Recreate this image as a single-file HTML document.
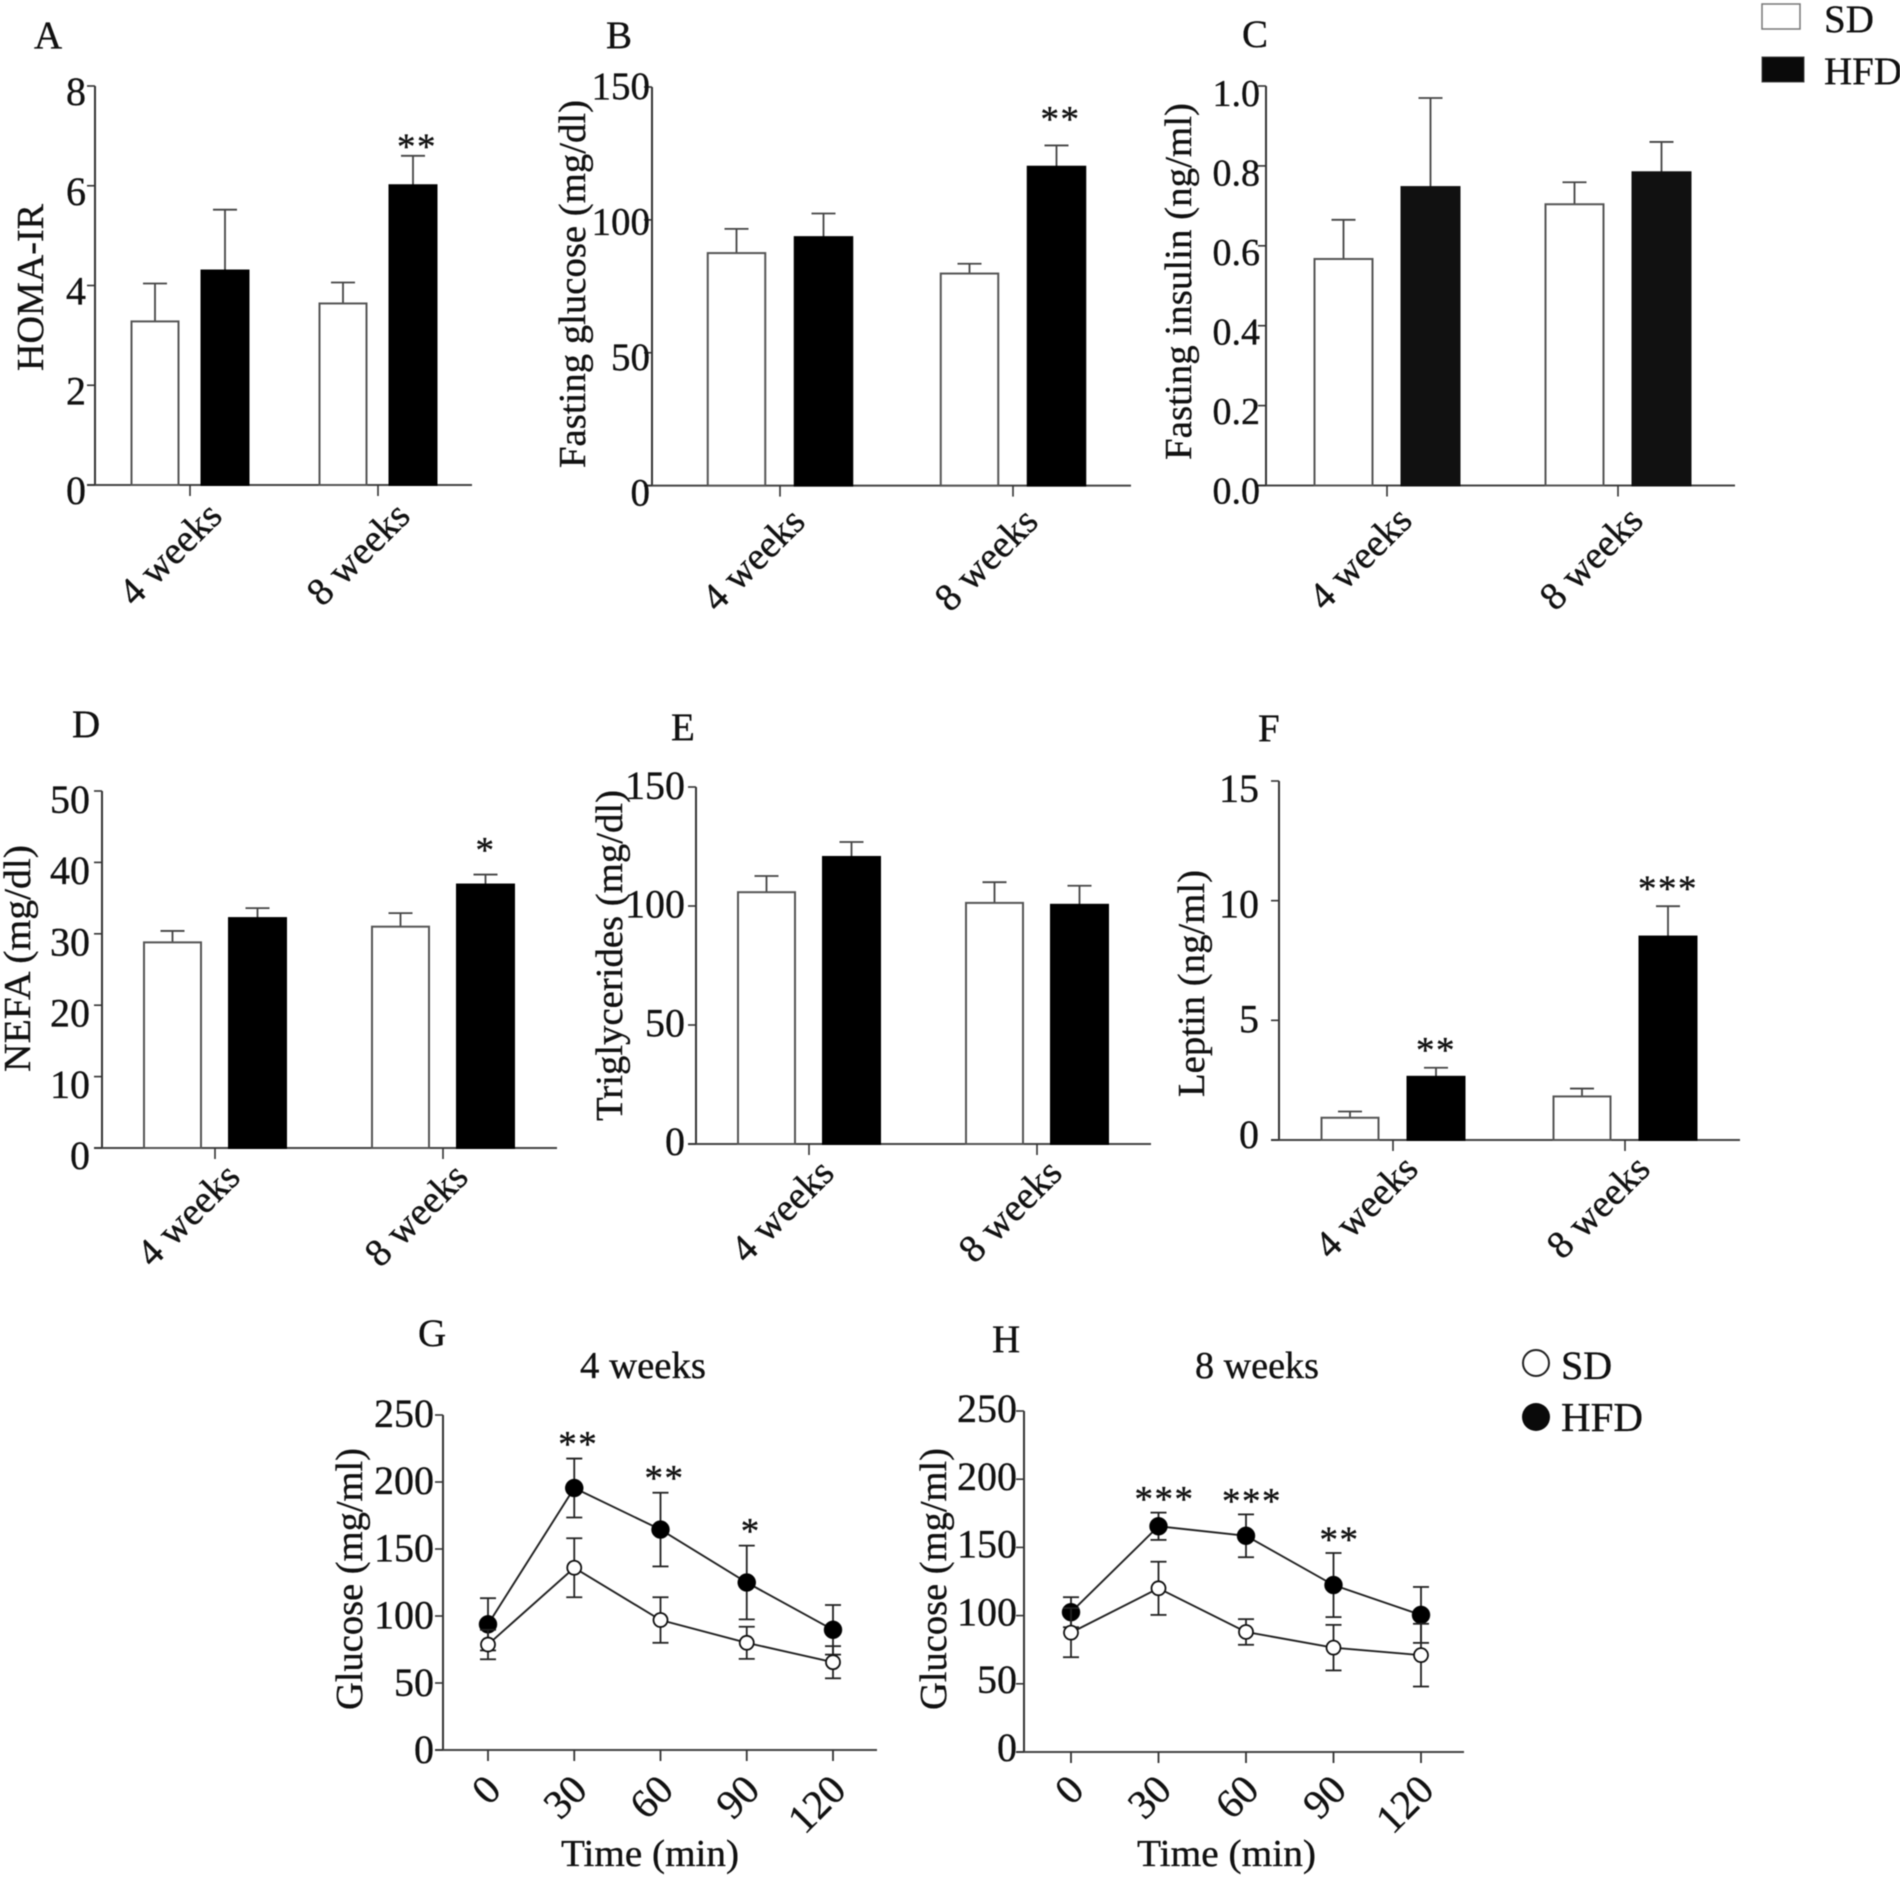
<!DOCTYPE html>
<html lang="en">
<head>
<meta charset="utf-8">
<title>Metabolic parameters in SD and HFD groups</title>
<style>
html,body{margin:0;padding:0;background:#fff;}
svg{display:block;filter:blur(0.45px);}
text{font-family:"Liberation Serif",serif;fill:#111;stroke:#111;stroke-width:0.35px;}
</style>
</head>
<body>
<svg id="figure" xmlns="http://www.w3.org/2000/svg" width="1900" height="1878" viewBox="0 0 1900 1878">
  <rect x="0" y="0" width="1900" height="1878" fill="#fff"/>

  <text x="34" y="48" font-size="39">A</text>
  <text x="606" y="48" font-size="39">B</text>
  <text x="1242" y="47" font-size="39">C</text>
  <text x="72" y="737" font-size="39">D</text>
  <text x="671" y="740" font-size="39">E</text>
  <text x="1258" y="741" font-size="39">F</text>
  <text x="418" y="1346" font-size="39">G</text>
  <text x="992" y="1352" font-size="39">H</text>

  <text transform="translate(43 371) rotate(-90)" font-size="38" textLength="167" lengthAdjust="spacingAndGlyphs">HOMA-IR</text>
  <text transform="translate(585 468) rotate(-90)" font-size="38" textLength="368" lengthAdjust="spacingAndGlyphs">Fasting glucose (mg/dl)</text>
  <text transform="translate(1191 460) rotate(-90)" font-size="38" textLength="357" lengthAdjust="spacingAndGlyphs">Fasting insulin (ng/ml)</text>
  <text transform="translate(30 1072) rotate(-90)" font-size="38" textLength="227" lengthAdjust="spacingAndGlyphs">NEFA (mg/dl)</text>
  <text transform="translate(622 1121) rotate(-90)" font-size="38" textLength="331" lengthAdjust="spacingAndGlyphs">Triglycerides (mg/dl)</text>
  <text transform="translate(1204 1097) rotate(-90)" font-size="38" textLength="227" lengthAdjust="spacingAndGlyphs">Leptin (ng/ml)</text>
  <text transform="translate(362 1710) rotate(-90)" font-size="38" textLength="262" lengthAdjust="spacingAndGlyphs">Glucose (mg/ml)</text>
  <text transform="translate(946 1710) rotate(-90)" font-size="38" textLength="262" lengthAdjust="spacingAndGlyphs">Glucose (mg/ml)</text>

  <text x="580" y="1378" font-size="38" textLength="126" lengthAdjust="spacingAndGlyphs">4 weeks</text>
  <text x="1195" y="1378" font-size="38" textLength="124" lengthAdjust="spacingAndGlyphs">8 weeks</text>
  <text x="561" y="1866" font-size="38" textLength="178" lengthAdjust="spacingAndGlyphs">Time (min)</text>
  <text x="1137" y="1866" font-size="38" textLength="179" lengthAdjust="spacingAndGlyphs">Time (min)</text>

  <g>
    <rect x="1762" y="4" width="38" height="25" fill="#fff" stroke="#777" stroke-width="1.5"/>
    <text x="1824" y="32" font-size="39">SD</text>
    <rect x="1762" y="57" width="42" height="25" fill="#0a0a0a" stroke="#444" stroke-width="1"/>
    <text x="1824" y="84" font-size="39">HFD</text>
  </g>
  <g>
    <circle cx="1536" cy="1363" r="13" fill="#fff" stroke="#222" stroke-width="2"/>
    <text x="1561" y="1379" font-size="40">SD</text>
    <circle cx="1536" cy="1417" r="14" fill="#0a0a0a"/>
    <text x="1561" y="1431" font-size="41">HFD</text>
  </g>
  <g id="plots"></g>
</svg>
<script>
// ---- shared categories ----
const weekLabels = ['4 weeks', '8 weeks'];
const timeLabels = ['0', '30', '60', '90', '120'];
const timeValues = [0, 30, 60, 90, 120];

// ---- tick labels ----
const homaTicks = ['0', '2', '4', '6', '8'];
const glucoseTicks = ['0', '50', '100', '150'];
const insulinTicks = ['0.0', '0.2', '0.4', '0.6', '0.8', '1.0'];
const nefaTicks = ['0', '10', '20', '30', '40', '50'];
const trigTicks = ['0', '50', '100', '150'];
const leptinTicks = ['0', '5', '10', '15'];
const ogttTicks = ['0', '50', '100', '150', '200', '250'];

// ---- bar data: mean and upper error cap per week ----
const homaSD = [3.28, 3.64];
const homaSDUpper = [4.04, 4.06];
const homaHFD = [4.3, 6.01];
const homaHFDUpper = [5.52, 6.6];
const homaStars = ['', '**'];

const glucoseSD = [87.5, 79.8];
const glucoseSDUpper = [96.6, 83.5];
const glucoseHFD = [93.5, 120];
const glucoseHFDUpper = [102.4, 128];
const glucoseStars = ['', '**'];

const insulinSD = [0.567, 0.704];
const insulinSDUpper = [0.665, 0.759];
const insulinHFD = [0.747, 0.784];
const insulinHFDUpper = [0.97, 0.86];
const insulinStars = ['', ''];

const nefaSD = [28.8, 31];
const nefaSDUpper = [30.4, 32.9];
const nefaHFD = [32.2, 36.9];
const nefaHFDUpper = [33.6, 38.3];
const nefaStars = ['', '*'];

const trigSD = [105.8, 101.3];
const trigSDUpper = [112.6, 110];
const trigHFD = [120.6, 100.5];
const trigHFDUpper = [126.9, 108.5];
const trigStars = ['', ''];

const leptinSD = [0.93, 1.82];
const leptinSDUpper = [1.19, 2.15];
const leptinHFD = [2.64, 8.5];
const leptinHFDUpper = [3.02, 9.77];
const leptinStars = ['**', '***'];

// ---- glucose tolerance data: mean and +/- error per time point ----
const ogtt4SD = [78.7, 136, 97, 80, 65.5];
const ogtt4SDErr = [11, 22, 17, 12, 12];
const ogtt4HFD = [93.8, 195.5, 164.5, 125, 89.7];
const ogtt4HFDErr = [19.5, 22, 27.5, 27.5, 18.5];
const ogtt4Stars = ['', '**', '**', '*', ''];

const ogtt8SD = [87.5, 120, 88, 76.5, 71];
const ogtt8SDErr = [18, 19.5, 9.4, 16.7, 23];
const ogtt8HFD = [102.5, 165.5, 158.5, 122.4, 100.5];
const ogtt8HFDErr = [11, 10, 15.7, 23.5, 20.5];
const ogtt8Stars = ['', '***', '***', '**', ''];

const SVGNS = 'http://www.w3.org/2000/svg';
const plots = document.getElementById('plots');

function make(parent, tag, name, attrs) {
  const el = document.createElementNS(SVGNS, tag);
  
  
  for (const k in attrs) el.setAttribute(k, attrs[k]);
  parent.appendChild(el);
  return el;
}
function line(parent, name, x1, y1, x2, y2, stroke, w) {
  return make(parent, 'line', name, {x1: x1, y1: y1, x2: x2, y2: y2, stroke: stroke, 'stroke-width': w});
}
function label(parent, name, x, y, str, size, anchor, rot) {
  const attrs = {'font-size': size, 'text-anchor': anchor};
  if (rot) { attrs.transform = 'translate(' + x + ' ' + y + ') rotate(' + rot + ')'; }
  else { attrs.x = x; attrs.y = y; }
  const t = make(parent, 'text', name, attrs);
  t.textContent = str;
  return t;
}
function stars(parent, x, y, str) {
  const t = label(parent, 'significance-stars', x, y, str, 37, 'middle');
  t.setAttribute('letter-spacing', '1.5');
  return t;
}
function yAxisFn(cfg) {
  const max = Number(cfg.ticks[cfg.ticks.length - 1]);
  return function (v) { return cfg.y0 - (v / max) * (cfg.y0 - cfg.yTop); };
}
function drawYAxis(g, cfg, y) {
  line(g, 'y-axis-line', cfg.axisX, cfg.yTop, cfg.axisX, cfg.y0, '#333', 2);
  line(g, 'x-axis-line', cfg.axisX - 8, cfg.y0, cfg.xEnd, cfg.y0, '#444', 2);
  const n = cfg.ticks.length;
  cfg.ticks.forEach(function (t, i) {
    const v = Number(t);
    line(g, 'y-tick', cfg.axisX - 8, y(v), cfg.axisX, y(v), '#333', 1.6);
    const dy = cfg.dyLow + (cfg.dyHigh - cfg.dyLow) * (i / (n - 1));
    label(g, 'y-tick-label', cfg.labelRight, y(v) + dy, t, cfg.tickSize, 'end');
  });
}

function barPanel(cfg) {
  const g = make(plots, 'g', cfg.name, {});
  const y = yAxisFn(cfg);
  const band = function (i) { return cfg.band0 + i * (cfg.band1 - cfg.band0); };
  const series = [
    {name: 'sd', vals: cfg.sd, upper: cfg.sdUpper, off: -cfg.offset, fill: '#fff', stroke: '#555'},
    {name: 'hfd', vals: cfg.hfd, upper: cfg.hfdUpper, off: cfg.offset, fill: cfg.black, stroke: cfg.black}
  ];
  drawYAxis(g, cfg, y);
  weekLabels.forEach(function (w, i) {
    line(g, 'x-tick', band(i), cfg.y0, band(i), cfg.y0 + 11, '#333', 1.6);
    label(g, 'x-tick-label', band(i) + cfg.labelDx, cfg.y0 + cfg.labelDy, w, 39, 'end', -45);
    series.forEach(function (s) {
      const cx = band(i) + s.off;
      const top = y(s.upper[i]);
      line(g, 'error-stem-' + s.name, cx, y(s.vals[i]), cx, top, '#444', 1.8);
      line(g, 'error-cap-' + s.name, cx - 12, top, cx + 12, top, '#444', 1.8);
      make(g, 'rect', 'bar-' + s.name + '-' + (i ? '8w' : '4w'), {
        x: cx - cfg.barW / 2, y: y(s.vals[i]), width: cfg.barW,
        height: cfg.y0 - y(s.vals[i]), fill: s.fill, stroke: s.stroke, 'stroke-width': 2
      });
    });
    if (cfg.stars[i]) {
      stars(g, band(i) + cfg.offset + cfg.starDx, y(cfg.hfdUpper[i]) - cfg.starGap + 15, cfg.stars[i]);
    }
  });
}

function linePanel(cfg) {
  const g = make(plots, 'g', cfg.name, {});
  const y = yAxisFn(cfg);
  const x = function (t) { return cfg.x0 + (t / 120) * (cfg.x120 - cfg.x0); };
  drawYAxis(g, cfg, y);
  timeLabels.forEach(function (t, i) {
    const px = x(timeValues[i]);
    line(g, 'x-tick', px, cfg.y0, px, cfg.y0 + 11, '#333', 1.8);
    label(g, 'x-tick-label', px + cfg.labelDx, cfg.y0 + cfg.labelDy, t, 41, 'end', -45);
  });
  const series = [
    {name: 'hfd', vals: cfg.hfd, err: cfg.hfdErr, fill: '#000', r: 9},
    {name: 'sd', vals: cfg.sd, err: cfg.sdErr, fill: '#fff', r: 7}
  ];
  series.forEach(function (s) {
    timeValues.forEach(function (t, i) {
      const px = x(t);
      const hi = y(s.vals[i] + s.err[i]);
      const lo = y(s.vals[i] - s.err[i]);
      line(g, 'error-stem-' + s.name, px, hi, px, lo, '#222', 1.8);
      line(g, 'error-cap-' + s.name, px - 8, hi, px + 8, hi, '#222', 1.8);
      line(g, 'error-cap-' + s.name, px - 8, lo, px + 8, lo, '#222', 1.8);
    });
    const pts = timeValues.map(function (t, i) { return x(t) + ',' + y(s.vals[i]); }).join(' ');
    make(g, 'polyline', 'line-' + s.name, {points: pts, fill: 'none', stroke: '#222', 'stroke-width': 1.9});
    timeValues.forEach(function (t, i) {
      make(g, 'circle', 'point-' + s.name, {
        cx: x(t), cy: y(s.vals[i]), r: s.r, fill: s.fill, stroke: '#111', 'stroke-width': s.name === 'sd' ? 1.8 : 0.5
      });
    });
  });
  timeValues.forEach(function (t, i) {
    if (cfg.stars[i]) {
      stars(g, x(t) + cfg.starDx, y(cfg.hfd[i] + cfg.hfdErr[i]) - cfg.starGap + 15, cfg.stars[i]);
    }
  });
}

barPanel({name: 'panel-homa-ir', ticks: homaTicks, sd: homaSD, sdUpper: homaSDUpper, hfd: homaHFD, hfdUpper: homaHFDUpper, stars: homaStars,
  axisX: 95, y0: 485, yTop: 86, xEnd: 472, band0: 190, band1: 378, offset: 35, barW: 47, tickSize: 40, labelRight: 86, dyLow: 19, dyHigh: 19, labelDx: 34, labelDy: 33, starGap: 12, starDx: 4, black: '#000'});
barPanel({name: 'panel-fasting-glucose', ticks: glucoseTicks, sd: glucoseSD, sdUpper: glucoseSDUpper, hfd: glucoseHFD, hfdUpper: glucoseHFDUpper, stars: glucoseStars,
  axisX: 652, y0: 485.6, yTop: 87, xEnd: 1131, band0: 780, band1: 1013, offset: 43.5, barW: 57.5, tickSize: 39, labelRight: 650, dyLow: 20, dyHigh: 12, labelDx: 27, labelDy: 38, starGap: 29, starDx: 4, black: '#000'});
barPanel({name: 'panel-fasting-insulin', ticks: insulinTicks, sd: insulinSD, sdUpper: insulinSDUpper, hfd: insulinHFD, hfdUpper: insulinHFDUpper, stars: insulinStars,
  axisX: 1266, y0: 485.5, yTop: 86, xEnd: 1735, band0: 1387, band1: 1618, offset: 43.5, barW: 58, tickSize: 38, labelRight: 1260, dyLow: 18, dyHigh: 20, labelDx: 27, labelDy: 37, starGap: 20, starDx: 0, black: '#111'});
barPanel({name: 'panel-nefa', ticks: nefaTicks, sd: nefaSD, sdUpper: nefaSDUpper, hfd: nefaHFD, hfdUpper: nefaHFDUpper, stars: nefaStars,
  axisX: 102, y0: 1148, yTop: 791, xEnd: 557, band0: 215, band1: 443, offset: 42.5, barW: 57, tickSize: 40, labelRight: 90, dyLow: 21, dyHigh: 22, labelDx: 27, labelDy: 31, starGap: 27, starDx: 0, black: '#000'});
barPanel({name: 'panel-triglycerides', ticks: trigTicks, sd: trigSD, sdUpper: trigSDUpper, hfd: trigHFD, hfdUpper: trigHFDUpper, stars: trigStars,
  axisX: 696, y0: 1144, yTop: 787, xEnd: 1151, band0: 809, band1: 1037, offset: 42.5, barW: 57, tickSize: 40, labelRight: 685, dyLow: 11, dyHigh: 12, labelDx: 27, labelDy: 31, starGap: 20, starDx: 0, black: '#000'});
barPanel({name: 'panel-leptin', ticks: leptinTicks, sd: leptinSD, sdUpper: leptinSDUpper, hfd: leptinHFD, hfdUpper: leptinHFDUpper, stars: leptinStars,
  axisX: 1279, y0: 1140, yTop: 781, xEnd: 1740, band0: 1393, band1: 1625, offset: 43, barW: 57, tickSize: 40, labelRight: 1259, dyLow: 8, dyHigh: 21, labelDx: 27, labelDy: 31, starGap: 20, starDx: 0, black: '#000'});

linePanel({name: 'panel-ogtt-4-weeks', ticks: ogttTicks, sd: ogtt4SD, sdErr: ogtt4SDErr, hfd: ogtt4HFD, hfdErr: ogtt4HFDErr, stars: ogtt4Stars,
  axisX: 443, y0: 1750, yTop: 1415, xEnd: 877, x0: 488, x120: 833, tickSize: 40, labelRight: 434, dyLow: 13, dyHigh: 12, labelDx: 15, labelDy: 42, starGap: 17, starDx: 4});
linePanel({name: 'panel-ogtt-8-weeks', ticks: ogttTicks, sd: ogtt8SD, sdErr: ogtt8SDErr, hfd: ogtt8HFD, hfdErr: ogtt8HFDErr, stars: ogtt8Stars,
  axisX: 1024, y0: 1752, yTop: 1411, xEnd: 1464, x0: 1071, x120: 1421, tickSize: 40, labelRight: 1017, dyLow: 9, dyHigh: 11, labelDx: 15, labelDy: 40, starGap: 16, starDx: 6});
</script>
</body>
</html>
